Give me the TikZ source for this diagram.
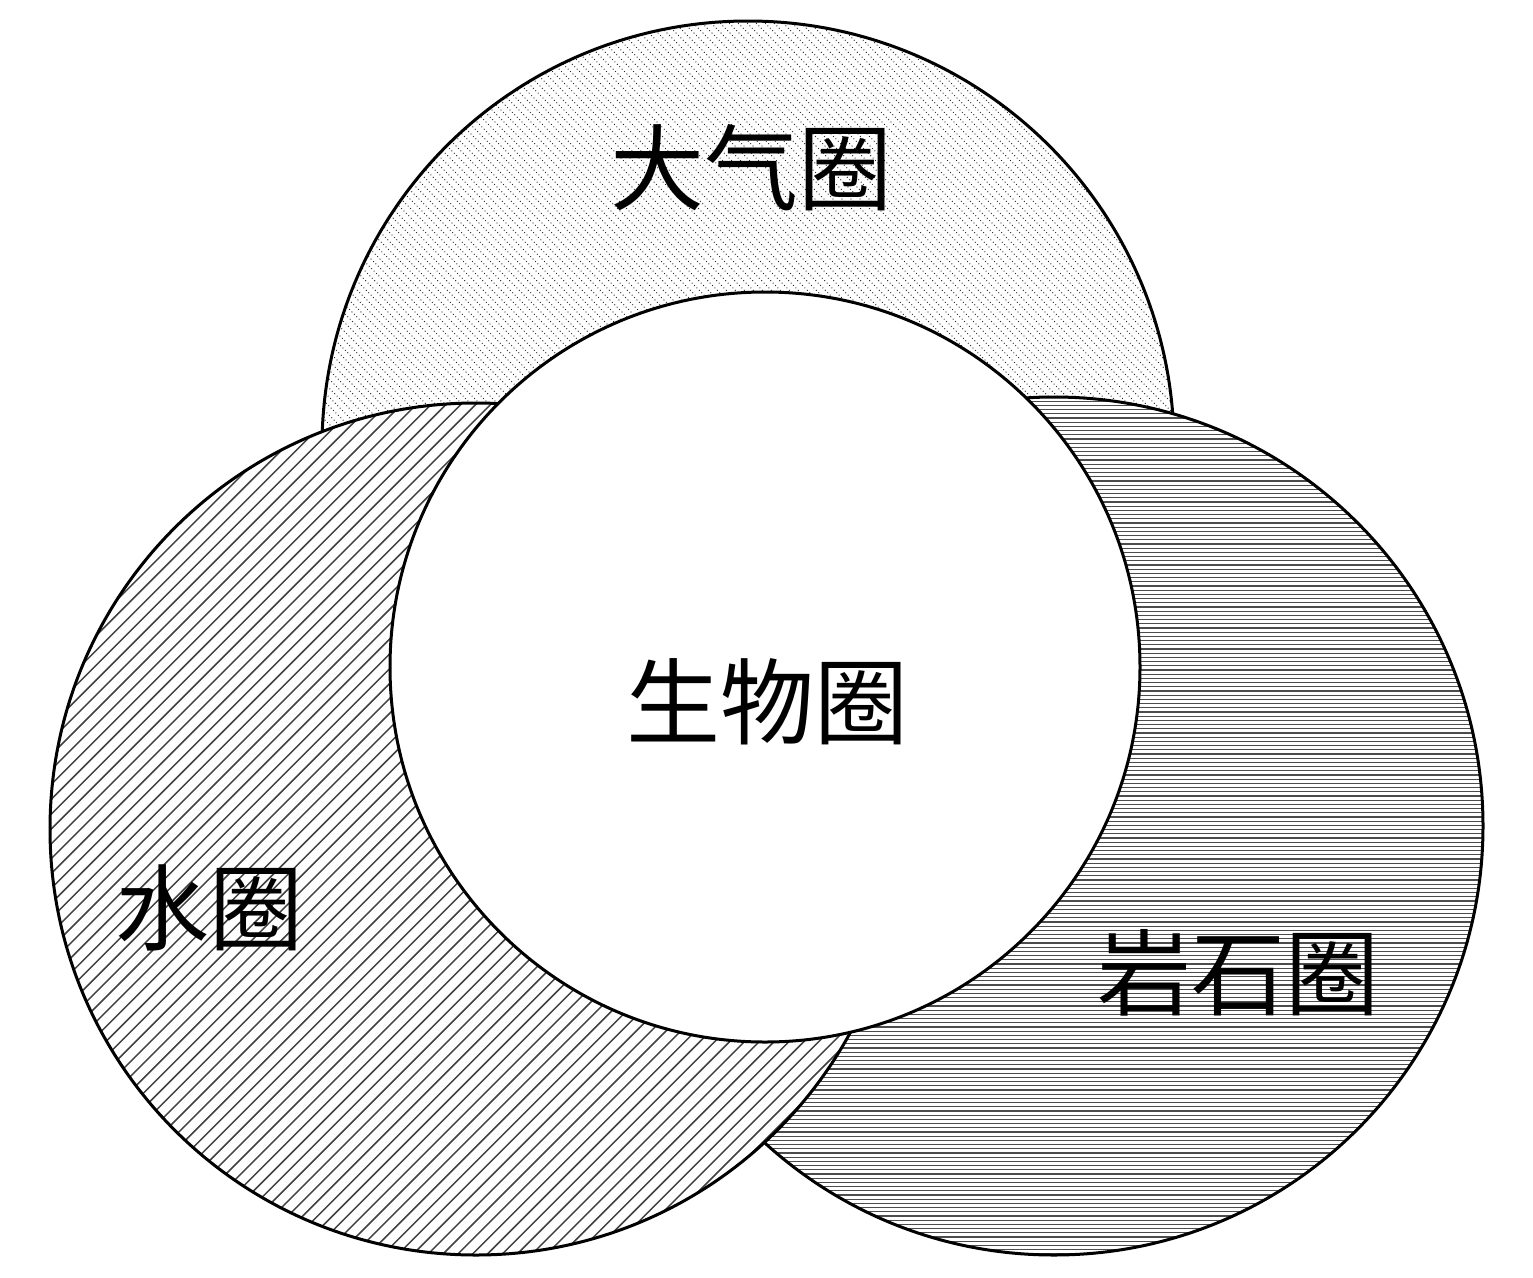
\documentclass[tikz,border=0pt]{standalone}
\usepackage{fontspec}
\newfontfamily\cjk{Noto Sans CJK SC}

\tikzset{
  sphere/.style={draw, line width=3pt},
  atmohatch/.style={line width=1.3pt, line cap=round, dash pattern=on 0pt off 3.4pt, black!85},
  hydrohatch/.style={line width=1.5pt, black!75},
  lithohatch/.style={line width=1.3pt, black!70},
  spherename/.style={font=\cjk\fontsize{94}{94}\selectfont, inner sep=0pt}
}

\begin{document}
\begin{tikzpicture}[x=1pt, y=-1pt]
    \useasboundingbox (0,0) rectangle (1533,1277);

    % Centres
    \coordinate (atmoc) at (748,447);
    \coordinate (lithoc) at (1054,826);
    \coordinate (hydroc) at (476,829);
    \coordinate (bioc) at (765,667);

    % Atmosphere
    \begin{scope}[shift={(atmoc)}]
        \fill[white] (0,0) circle[radius=426];
        \begin{scope}
            \clip (0,0) circle[radius=426];
            \foreach \k in {-900,-891,...,900}
                \draw[atmohatch] (\k-450,-450) -- ++(900,900);
        \end{scope}
        \draw[sphere] (0,0) circle[radius=426];
    \end{scope}

    % Lithosphere
    \begin{scope}[shift={(lithoc)}]
        \fill[white] (0,0) circle[radius=429];
        \begin{scope}
            \clip (0,0) circle[radius=429];
            \foreach \k in {-429,-424.8,...,429}
                \draw[lithohatch] (-440,\k) -- (440,\k);
        \end{scope}
        \draw[sphere] (0,0) circle[radius=429];
    \end{scope}

    % Hydrosphere
    \begin{scope}[shift={(hydroc)}]
        \fill[white] (0,0) circle[radius=426];
        \begin{scope}
            \clip (0,0) circle[radius=426];
            \foreach \k in {-900,-885.15,...,900}
                \draw[hydrohatch] (\k-450,450) -- ++(900,-900);
        \end{scope}
        \draw[sphere] (0,0) circle[radius=426];
    \end{scope}

    % Biosphere
    \draw[sphere, fill=white] (bioc) circle[radius=375];

    % Labels
    \node[spherename] (atmo) at (751,168) {大气圈};
    \node[spherename] (bio) at (767,702) {生物圈};
    \node[spherename] (hydro) at (209,908) {水圈};
    \node[spherename] (litho) at (1238,973) {岩石圈};
\end{tikzpicture}
\end{document}
